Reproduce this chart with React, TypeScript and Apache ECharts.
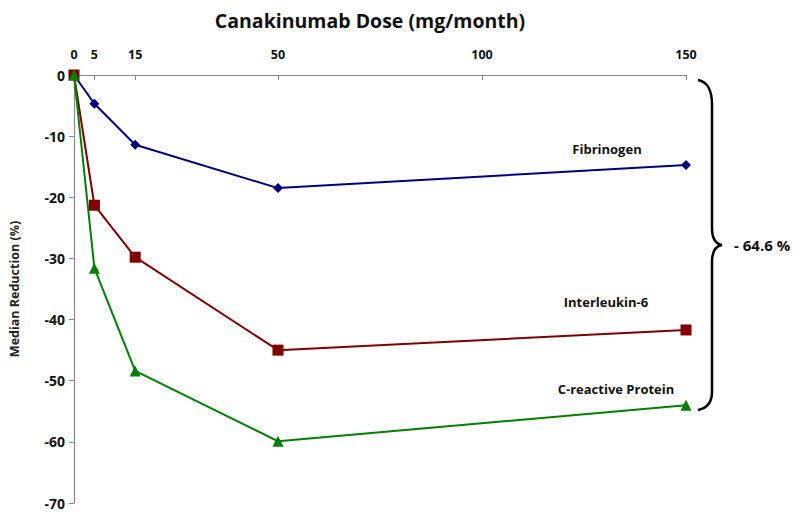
import React, { useEffect, useRef } from "react";
import * as echarts from "echarts";

const doses = [0, 5, 15, 50, 150];
const fibrinogen = [0, -4.7, -11.4, -18.5, -14.7];
const interleukin6 = [0, -21.3, -29.8, -45.0, -41.7];
const crp = [0, -31.6, -48.4, -59.9, -54.0];
const xTickValues = [0, 5, 15, 50, 100, 150];
const seriesNames = ["Fibrinogen", "Interleukin-6", "C-reactive Protein"];
const totalReduction = "- 64.6 %";

const FONT = "'Open Sans', 'Liberation Sans', sans-serif";

const bracePath =
  "M698,80 C708,82 712,90 712,105 L712,228 C712,240 716,244 722,245 C716,246 712,250 712,262 L712,392 C712,402 708,408 698,410";

let registered = false;

export default function App() {
  const ref = useRef<HTMLDivElement>(null);
  useEffect(() => {
    if (!registered) {
      echarts.graphic.registerShape("brace", echarts.graphic.extendPath(bracePath, {}) as any);
      registered = true;
    }
    const chart = echarts.init(ref.current!, null, { renderer: "svg" });
    const pair = (ys: number[]) => doses.map((d, i) => [d, ys[i]]);
    chart.setOption({
      animation: false,
      title: {
        text: "Canakinumab Dose (mg/month)",
        left: 365,
        textAlign: "center",
        top: 5,
        textStyle: { fontFamily: FONT, fontSize: 19.5, fontWeight: "bold", color: "#111" },
      },
      grid: { left: 72, right: 114, top: 75, bottom: 13, containLabel: false },
      xAxis: {
        type: "value",
        position: "top",
        min: 0,
        max: 150,
        axisLine: { show: true, onZero: false, lineStyle: { color: "#888", width: 1.2 } },
        axisTick: { show: true, inside: true, length: 5, customValues: xTickValues.slice(1), lineStyle: { color: "#888" } },
        axisLabel: {
          customValues: xTickValues,
          margin: 14,
          fontFamily: FONT,
          fontSize: 12.5,
          fontWeight: "bold",
          color: "#111",
        },
        splitLine: { show: false },
      },
      yAxis: {
        type: "value",
        min: -70,
        max: 0,
        interval: 10,
        name: "Median Reduction (%)",
        nameLocation: "middle",
        nameGap: 53,
        nameTextStyle: { fontFamily: FONT, fontSize: 12.5, fontWeight: "bold", color: "#222" },
        axisLine: { show: true, onZero: false, lineStyle: { color: "#888", width: 1.2 } },
        axisTick: { show: true, inside: false, length: 5, lineStyle: { color: "#888" } },
        axisLabel: { fontFamily: FONT, fontSize: 14, fontWeight: "bold", color: "#111", margin: 9 },
        splitLine: { show: false },
      },
      series: [
        {
          name: seriesNames[0],
          type: "line",
          data: pair(fibrinogen),
          symbol: "diamond",
          symbolSize: 10,
          itemStyle: { color: "#000080" },
          lineStyle: { color: "#000080", width: 2 },
        },
        {
          name: seriesNames[1],
          type: "line",
          data: pair(interleukin6),
          symbol: "rect",
          symbolSize: 11,
          itemStyle: { color: "#800000" },
          lineStyle: { color: "#800000", width: 2 },
        },
        {
          name: seriesNames[2],
          type: "line",
          data: pair(crp),
          symbol: "triangle",
          symbolSize: 11,
          itemStyle: { color: "#008000" },
          lineStyle: { color: "#008000", width: 2 },
        },
      ],
      graphic: [
        {
          type: "brace",
          x: 0,
          y: 0,
          style: { stroke: "#000", lineWidth: 2.5, fill: "none" },
          z: 100,
        },
        {
          type: "text",
          x: 734,
          y: 245,
          style: { text: totalReduction, font: `bold 15px ${FONT}`, fill: "#111", verticalAlign: "middle" },
        },
        {
          type: "text",
          x: 607,
          y: 149,
          style: { text: seriesNames[0], font: `bold 13px ${FONT}`, fill: "#111", align: "center", verticalAlign: "middle" },
        },
        {
          type: "text",
          x: 606,
          y: 302,
          style: { text: seriesNames[1], font: `bold 13px ${FONT}`, fill: "#111", align: "center", verticalAlign: "middle" },
        },
        {
          type: "text",
          x: 616,
          y: 389,
          style: { text: seriesNames[2], font: `bold 13px ${FONT}`, fill: "#111", align: "center", verticalAlign: "middle" },
        },
      ],
    });
    return () => chart.dispose();
  }, []);
  return (
    <div
      ref={ref}
      style={{ position: "fixed", left: 0, top: 0, width: 800, height: 516, background: "#fff" }}
    />
  );
}
